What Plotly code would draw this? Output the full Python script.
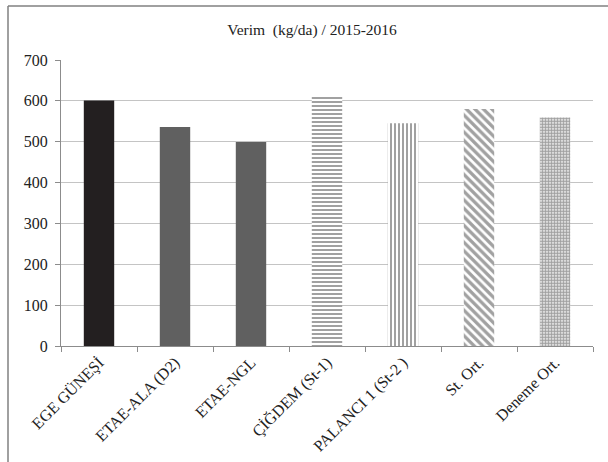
import plotly.graph_objects as go

categories = ["EGE GÜNEŞİ", "ETAE-ALA (D2)", "ETAE-NGL", "ÇİĞDEM (St-1)",
              "PALANCI 1 (St-2 )", "St. Ort.", "Deneme Ort."]
values = [601, 536, 499, 613, 545, 580, 559]
tick_vals = [0, 100, 200, 300, 400, 500, 600, 700]

fills = ["#231f20", "#606060", "#606060", "white", "white", "white", "white"]
shapes_pat = ["", "", "", "-", "|", "\\", "."]
pat_sizes = [8, 8, 8, 4, 4, 6, 3]
pat_sol = [0.3, 0.3, 0.3, 0.5, 0.5, 0.55, 0.7]

fig = go.Figure()
fig.add_trace(go.Bar(
    x=categories, y=values, width=0.4,
    marker=dict(color=fills, line=dict(width=0),
                pattern=dict(shape=shapes_pat, size=pat_sizes, solidity=pat_sol,
                             fgcolor="#000000", bgcolor="white", fillmode="overlay")),
))

L, R, T, B = 61, 15, 60, 116
W, H = 608, 462
pw, ph = W - L - R, H - T - B

fig.update_layout(
    width=W, height=H,
    margin=dict(l=L, r=R, t=T, b=B),
    paper_bgcolor="white", plot_bgcolor="white",
    showlegend=False, bargap=0.6,
    font=dict(family="Liberation Serif, Times New Roman, serif", color="#222", size=16),
    title=dict(text="Verim  (kg/da) / 2015-2016", x=(312) / W, xanchor="center",
               y=1 - 30 / H, yanchor="middle", font=dict(size=15.5, color="#222")),
    xaxis=dict(showline=True, linecolor="#8c8c8c", linewidth=1, ticks="outside",
               tickson="boundaries", ticklen=5, tickcolor="#8c8c8c", automargin=False,
               tickangle=-45, tickfont=dict(size=16), showgrid=False),
    yaxis=dict(range=[0, 700], tickvals=tick_vals, showline=True, linecolor="#8c8c8c",
               linewidth=1, ticks="outside", ticklen=5, tickcolor="#8c8c8c", automargin=False,
               showgrid=True, gridcolor="#c4c4c4", gridwidth=1.2, zeroline=False,
               tickfont=dict(size=16), ticklabelstandoff=4),
    shapes=[
        dict(type="line", xref="paper", yref="paper",
             x0=(8 - L) / pw, x1=1 + (R + 5) / pw, y0=(H - B - 6) / ph, y1=(H - B - 6) / ph,
             line=dict(color="#808080", width=1.5)),
        dict(type="line", xref="paper", yref="paper",
             x0=(8 - L) / pw, x1=(8 - L) / pw, y0=(H - B - 6) / ph, y1=-B / ph - 0.05,
             line=dict(color="#808080", width=1.5)),
    ],
)

fig.write_html("out.html")
